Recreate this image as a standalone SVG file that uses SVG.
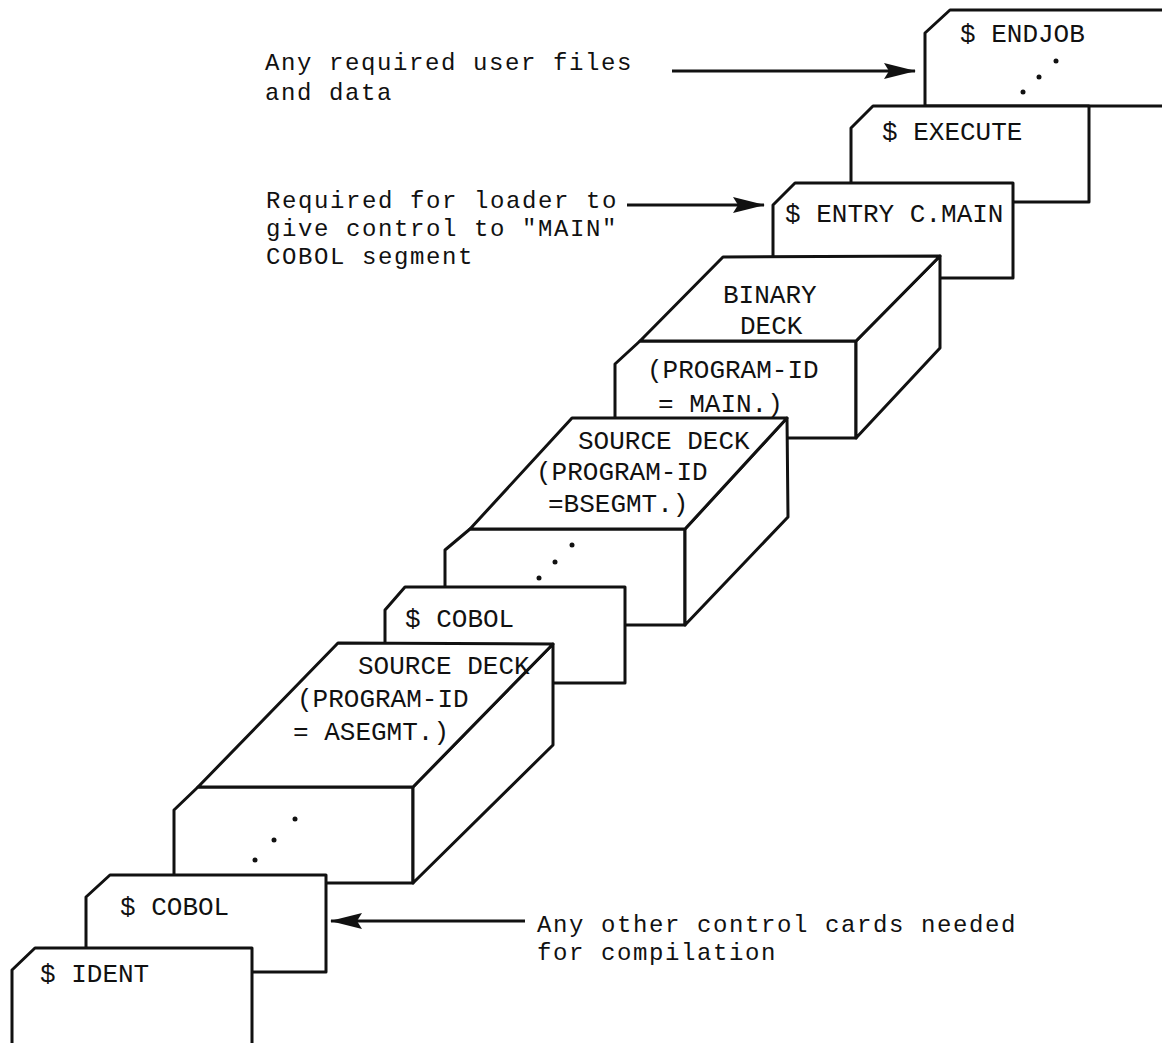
<svg xmlns="http://www.w3.org/2000/svg" width="1162" height="1043" viewBox="0 0 1162 1043">
<defs>
<style>
.card{fill:#fff;stroke:#111;stroke-width:3;stroke-linejoin:round}
.lbl{font-family:"Liberation Mono","DejaVu Sans Mono",monospace;font-size:26px;fill:#111}
.note{font-family:"Liberation Mono","DejaVu Sans Mono",monospace;font-size:24px;letter-spacing:1.6px;fill:#111}
.dot{fill:#111}
.conn{stroke:#111;stroke-width:3;fill:none}
</style>
<marker id="ah" markerUnits="userSpaceOnUse" viewBox="0 0 32 16" refX="31" refY="8" markerWidth="32" markerHeight="16" orient="auto"><path d="M0,0 L32,8 L0,16 L5,8 Z" fill="#111"/></marker>
</defs>
<rect width="1162" height="1043" fill="#fff"/>

<g id="endjob">
<path class="card" d="M925,106 L925,33 L950,10 L1175,10 L1175,106 Z"/>
<text class="lbl" x="960" y="42">$ ENDJOB</text>
<circle class="dot" cx="1056" cy="61" r="2.5"/>
<circle class="dot" cx="1039" cy="77" r="2.5"/>
<circle class="dot" cx="1023" cy="92" r="2.5"/>
</g>

<g id="execute">
<path class="card" d="M851,202 L851,128 L873,106 L1089,106 L1089,202 Z"/>
<text class="lbl" x="882" y="140">$ EXECUTE</text>
</g>

<g id="entry">
<path class="card" d="M773,278 L773,205 L795,183 L1013,183 L1013,278 Z"/>
<text class="lbl" x="785" y="222">$ ENTRY C.MAIN</text>
</g>

<g id="binary-deck">
<path class="card" d="M640,341 L856,341 L856,438 L615,438 L615,364 Z"/>
<path class="card" d="M940,256 L940,348 L856,438 L856,341 Z"/>
<path class="card" d="M723,257 L940,256 L856,341 L640,341 Z"/>
<text class="lbl" x="723" y="303">BINARY</text>
<text class="lbl" x="740" y="334">DECK</text>
<text class="lbl" x="647" y="378">(PROGRAM-ID</text>
<text class="lbl" x="658" y="412">= MAIN.)</text>
</g>

<g id="source-deck-b">
<path class="card" d="M470,529 L685,529 L685,625 L445,625 L445,550 Z"/>
<path class="card" d="M787,418 L788,517 L685,625 L685,529 Z"/>
<path class="card" d="M572,418 L787,418 L685,529 L470,529 Z"/>
<text class="lbl" x="578" y="449">SOURCE DECK</text>
<text class="lbl" x="536" y="480">(PROGRAM-ID</text>
<text class="lbl" x="548" y="512">=BSEGMT.)</text>
<circle class="dot" cx="572" cy="545" r="2.5"/>
<circle class="dot" cx="555" cy="562" r="2.5"/>
<circle class="dot" cx="539" cy="578" r="2.5"/>
</g>

<g id="cobol-2">
<path class="card" d="M385,683 L385,610 L405,587 L625,587 L625,683 Z"/>
<text class="lbl" x="405" y="627">$ COBOL</text>
</g>

<g id="source-deck-a">
<path class="card" d="M198,787 L413,787 L413,883 L174,883 L174,810 Z"/>
<path class="card" d="M553,644 L553,745 L413,883 L413,787 Z"/>
<path class="card" d="M338,643 L553,644 L413,787 L198,787 Z"/>
<text class="lbl" x="358" y="674">SOURCE DECK</text>
<text class="lbl" x="297" y="707">(PROGRAM-ID</text>
<text class="lbl" x="293" y="740">= ASEGMT.)</text>
<circle class="dot" cx="295" cy="819" r="2.5"/>
<circle class="dot" cx="274" cy="840" r="2.5"/>
<circle class="dot" cx="255" cy="860" r="2.5"/>
</g>

<g id="cobol-1">
<path class="card" d="M86,972 L86,897 L110,875 L326,875 L326,972 Z"/>
<text class="lbl" x="120" y="915">$ COBOL</text>
</g>

<g id="ident">
<path class="card" d="M12,1060 L12,970 L35,948 L252,948 L252,1060 Z"/>
<text class="lbl" x="40" y="982">$ IDENT</text>
</g>

<g id="notes">
<text class="note" x="265" y="70">Any required user files</text>
<text class="note" x="265" y="100">and data</text>
<text class="note" x="266" y="208">Required for loader to</text>
<text class="note" x="266" y="236">give control to "MAIN"</text>
<text class="note" x="266" y="264">COBOL segment</text>
<text class="note" x="537" y="932">Any other control cards needed</text>
<text class="note" x="537" y="960">for compilation</text>
</g>

<g id="connectors">
<path class="conn" d="M672,71 L915,71" marker-end="url(#ah)"/>
<path class="conn" d="M627,205 L764,205" marker-end="url(#ah)"/>
<path class="conn" d="M525,921 L331,921" marker-end="url(#ah)"/>
</g>
</svg>
